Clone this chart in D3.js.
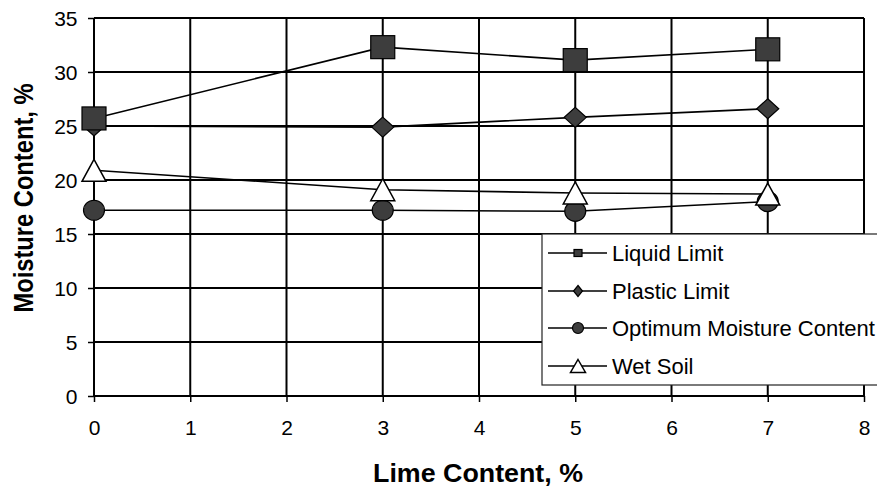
<!DOCTYPE html>
<html>
<head>
<meta charset="utf-8">
<script src="https://cdn.jsdelivr.net/npm/d3@7"></script>
<style>
  html, body { margin: 0; padding: 0; background: #fff; }
  svg { display: block; }
  text { font-family: "Liberation Sans", Arial, sans-serif; fill: #000; }
</style>
</head>
<body>
<svg id="chart" width="877" height="488"></svg>
<script>
// Lime content (%) at which each test was run
const limeContent = [0, 3, 5, 7];

// Moisture content (%) for each series
const liquidLimit = [25.7, 32.3, 31.1, 32.1];
const plasticLimit = [25.0, 24.9, 25.8, 26.6];
const optimumMoisture = [17.2, 17.2, 17.1, 18.0];
const wetSoil = [20.9, 19.1, 18.8, 18.7];

const seriesNames = ["Liquid Limit", "Plastic Limit", "Optimum Moisture Content", "Wet Soil"];
const xTicks = [0, 1, 2, 3, 4, 5, 6, 7, 8];
const yTicks = [0, 5, 10, 15, 20, 25, 30, 35];

const xTitle = "Lime Content, %";
const yTitle = "Moisture Content, %";

const svg = d3.select("#chart");

const x = d3.scaleLinear().domain([0, 8]).range([94, 864]);
const y = d3.scaleLinear().domain([0, 35]).range([396, 18]);

// Marker shapes, drawn around (0,0)
const shapes = {
  square: (g, big) => {
    const w = big ? 24 : 8, h = big ? 23 : 7;
    g.append("rect").attr("x", -w / 2).attr("y", -h / 2).attr("width", w).attr("height", h)
      .attr("fill", "#3d3d3d").attr("stroke", "#000").attr("stroke-width", 1.2);
  },
  diamond: (g, big) => {
    const w = big ? 11 : 4.5, h = big ? 10 : 5.5;
    g.append("path").attr("d", `M0,${-h}L${w},0L0,${h}L${-w},0Z`)
      .attr("fill", "#3d3d3d").attr("stroke", "#000").attr("stroke-width", 1.2);
  },
  circle: (g, big) => {
    g.append("ellipse").attr("rx", big ? 10.5 : 5.5).attr("ry", big ? 10 : 5.5)
      .attr("fill", "#3d3d3d").attr("stroke", "#000").attr("stroke-width", 1.2);
  },
  triangle: (g, big) => {
    const w = big ? 12 : 7.5, h = big ? 11 : 6.5;
    g.append("path").attr("d", `M0,${-h}L${w},${h}L${-w},${h}Z`)
      .attr("fill", "#fff").attr("stroke", "#000").attr("stroke-width", 1.5);
  }
};

const series = [
  { name: seriesNames[1], values: plasticLimit, shape: "diamond" },
  { name: seriesNames[2], values: optimumMoisture, shape: "circle" },
  { name: seriesNames[0], values: liquidLimit, shape: "square" },
  { name: seriesNames[3], values: wetSoil, shape: "triangle" }
];

// Grid
const grid = svg.append("g");
grid.selectAll("line.h").data(yTicks).join("line")
  .attr("x1", x(0)).attr("x2", x(8))
  .attr("y1", d => y(d)).attr("y2", d => y(d))
  .attr("stroke", "#000").attr("stroke-width", 2);
grid.selectAll("line.v").data(xTicks).join("line")
  .attr("y1", y(0)).attr("y2", y(35))
  .attr("x1", d => x(d)).attr("x2", d => x(d))
  .attr("stroke", "#000").attr("stroke-width", 2);

// Axes (tick marks and labels)
const xAxis = svg.append("g").attr("transform", `translate(0,${y(0)})`)
  .call(d3.axisBottom(x).tickValues(xTicks).tickSize(6).tickPadding(18).tickFormat(d3.format("d")));
const yAxis = svg.append("g").attr("transform", `translate(${x(0)},0)`)
  .call(d3.axisLeft(y).tickValues(yTicks).tickSize(6).tickPadding(10).tickFormat(d3.format("d")));
[xAxis, yAxis].forEach(a => {
  a.select(".domain").remove();
  a.selectAll(".tick line").attr("stroke", "#000").attr("stroke-width", 1.5);
  a.selectAll(".tick text").attr("font-size", 21).attr("font-family", "'Liberation Sans', Arial, sans-serif").attr("fill", "#000");
});
xAxis.selectAll(".tick text").attr("dy", "0.71em");
yAxis.selectAll(".tick text").attr("dx", "-0.5px").attr("dy", "0.36em");

// Series lines and markers
const line = d3.line().x((d, i) => x(limeContent[i])).y(d => y(d));
series.forEach(s => {
  svg.append("path").datum(s.values).attr("d", line)
    .attr("fill", "none").attr("stroke", "#000").attr("stroke-width", 1.6);
  s.values.forEach((v, i) => {
    const g = svg.append("g").attr("transform", `translate(${x(limeContent[i])},${y(v)})`);
    shapes[s.shape](g, true);
  });
});

// Legend
const legendOrder = [
  { name: seriesNames[0], shape: "square" },
  { name: seriesNames[1], shape: "diamond" },
  { name: seriesNames[2], shape: "circle" },
  { name: seriesNames[3], shape: "triangle" }
];
const legend = svg.append("g");
legend.append("rect").attr("x", 542).attr("y", 234).attr("width", 345).attr("height", 151)
  .attr("fill", "#fff").attr("stroke", "#222").attr("stroke-width", 1.2);
const rowY = [253, 291, 328, 366];
legendOrder.forEach((d, i) => {
  const g = legend.append("g").attr("transform", `translate(0,${rowY[i]})`);
  g.append("line").attr("x1", 548).attr("x2", 607).attr("y1", 0).attr("y2", 0)
    .attr("stroke", "#000").attr("stroke-width", 1.6);
  const m = g.append("g").attr("transform", "translate(578,0)");
  shapes[d.shape](m, false);
  g.append("text").attr("x", 612).attr("y", 0).attr("dy", "0.36em")
    .attr("font-size", 22).text(d.name);
});

// Axis titles
svg.append("text").attr("x", 478).attr("y", 482).attr("text-anchor", "middle")
  .attr("font-size", 26).attr("font-weight", "bold")
  .attr("textLength", 210).attr("lengthAdjust", "spacingAndGlyphs").text(xTitle);
svg.append("text").attr("transform", "translate(33,198) rotate(-90)").attr("text-anchor", "middle")
  .attr("font-size", 27).attr("font-weight", "bold")
  .attr("textLength", 229).attr("lengthAdjust", "spacingAndGlyphs").text(yTitle);
</script>
</body>
</html>
